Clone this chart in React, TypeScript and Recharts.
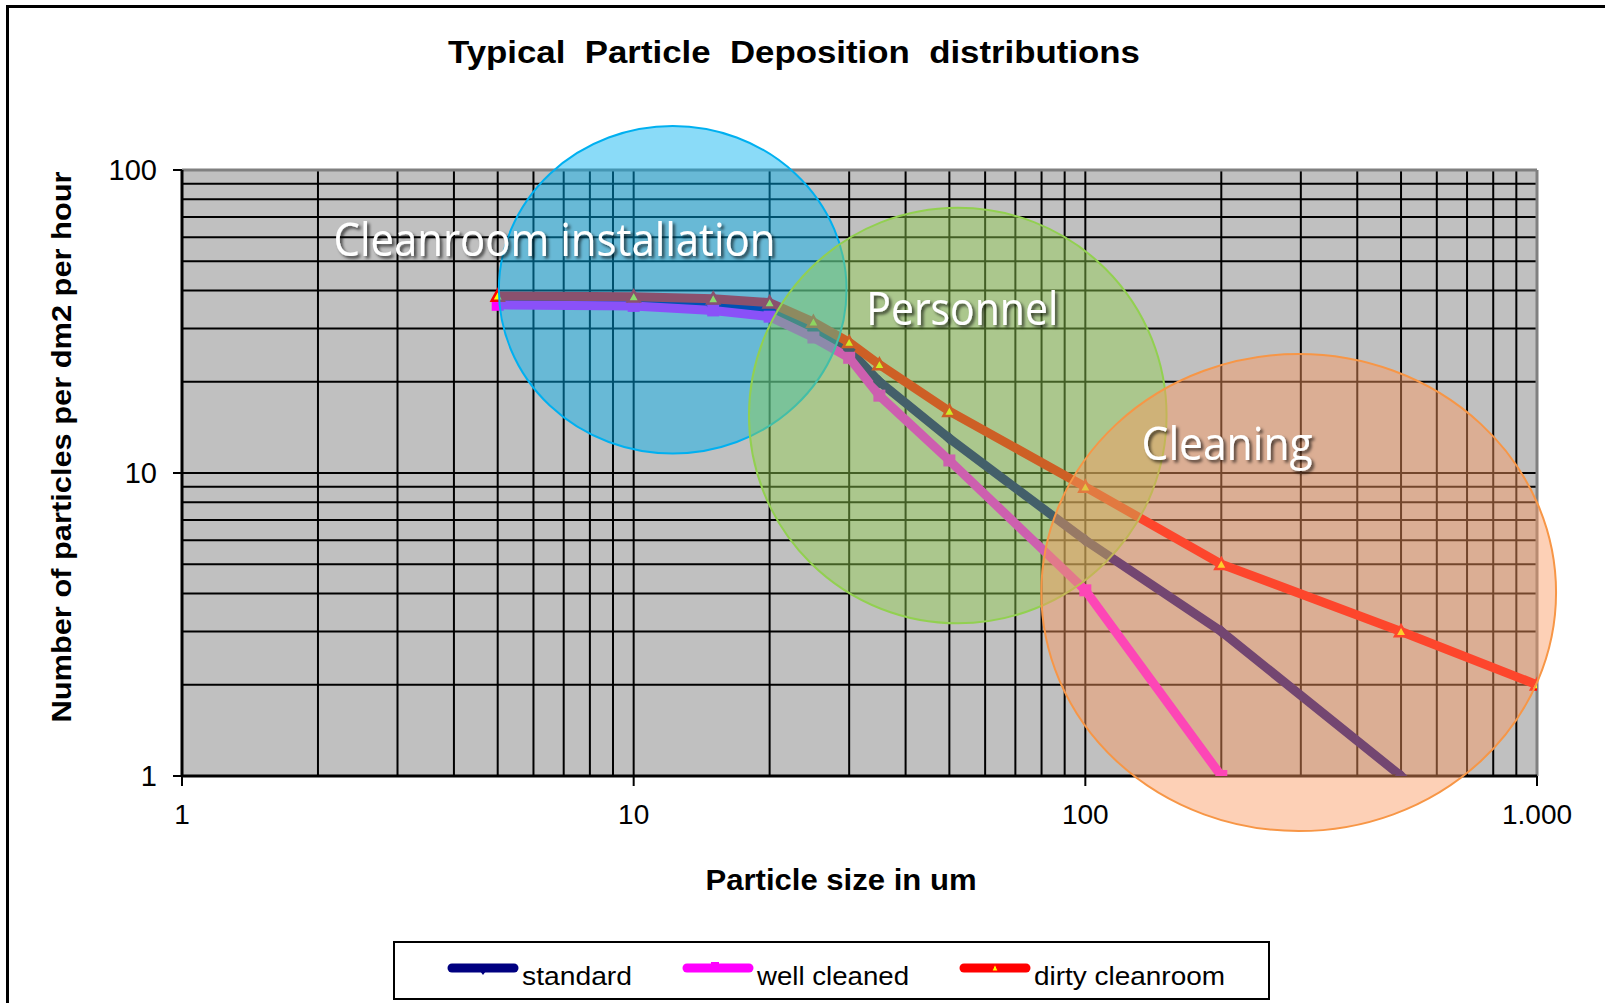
import React from 'react';
import {
  LineChart,
  Line,
  XAxis,
  YAxis,
  CartesianGrid,
  ReferenceArea,
  ReferenceDot,
  ReferenceLine,
  Legend,
} from 'recharts';

// ---------- data ----------
const standardSizes = [5, 10, 15, 20, 25, 30, 35, 50, 100, 200, 500];
const standardValues = [37, 36.6, 35.5, 34.5, 29.5, 25.5, 20, 13, 6, 3, 1];

const wellCleanedSizes = [5, 10, 15, 20, 25, 30, 35, 50, 100, 200];
const wellCleanedValues = [35.9, 35.6, 34.4, 32.8, 28, 24, 18, 11, 4.1, 1];

const dirtySizes = [5, 10, 15, 20, 25, 30, 35, 50, 100, 200, 500, 1000];
const dirtyValues = [38.4, 38.2, 37.6, 36.5, 31.5, 27, 22.8, 16, 9, 5, 3, 2];

const seriesNames = ['standard', 'well cleaned', 'dirty cleanroom'];
const seriesColors = ['#000080', '#FF00FF', '#FF0000'];

const xGridTicks = [
  1, 2, 3, 4, 5, 6, 7, 8, 9, 10, 20, 30, 40, 50, 60, 70, 80, 90, 100, 200, 300,
  400, 500, 600, 700, 800, 900, 1000,
];
const xLabelTicks = [1, 10, 100, 1000];
const yGridTicks = [
  1, 2, 3, 4, 5, 6, 7, 8, 9, 10, 20, 30, 40, 50, 60, 70, 80, 90, 100,
];
const yLabelTicks = [1, 10, 100];

// zones (ellipses) given by their data-space bounding boxes, plus label anchor
const zoneNames = ['Cleanroom installation', 'Personnel', 'Cleaning'];
const zoneX1 = [5.03, 18.0, 79.9];
const zoneX2 = [29.6, 151.3, 1102];
const zoneY1 = [11.6, 3.19, 0.658];
const zoneY2 = [139.7, 75.0, 24.7];
const zoneLabelX = [6.68, 53.4, 206];
const zoneLabelY = [52, 30.7, 11.0];
const zoneFills = ['#00B0F0', '#92D050', 'rgb(250,152,95)'];
const zoneStrokes = ['#00B0F0', '#92D050', '#F79646'];
const zoneLabelWidths = [442, 192, 171];

const toPoints = (xs: number[], ys: number[]) => xs.map((x, i) => ({ x, y: ys[i] }));
const standardData = toPoints(standardSizes, standardValues);
const wellCleanedData = toPoints(wellCleanedSizes, wellCleanedValues);
const dirtyData = toPoints(dirtySizes, dirtyValues);

const fmt = (v: number) => (v >= 1000 ? '1.000' : String(v));
const FONT = '"Liberation Sans", Arial, sans-serif';

// ---------- markers ----------
const Diamond = (p: any) => {
  const { cx, cy, index } = p;
  if (cx == null || cy == null) return <g key={index} />;
  const s = 6.5;
  return (
    <path
      key={index}
      d={`M${cx},${cy - s}L${cx + s},${cy}L${cx},${cy + s}L${cx - s},${cy}Z`}
      fill="#000080"
    />
  );
};
const Square = (p: any) => {
  const { cx, cy, index } = p;
  if (cx == null || cy == null) return <g key={index} />;
  const s = 6;
  return <rect key={index} x={cx - s} y={cy - s} width={2 * s} height={2 * s} fill="#FF00FF" />;
};
const Triangle = (p: any) => {
  const { cx, cy, index } = p;
  if (cx == null || cy == null) return <g key={index} />;
  const s = 6;
  return (
    <path
      key={index}
      d={`M${cx},${cy - s}L${cx + s},${cy + s * 0.8}L${cx - s},${cy + s * 0.8}Z`}
      fill="#FFFF00"
      stroke="#FF0000"
      strokeWidth={2.5}
    />
  );
};

// ---------- ticks ----------
const XTick = (p: any) => {
  const { x, y, payload } = p;
  const v = payload.value;
  if (!xLabelTicks.includes(v)) return <g />;
  return (
    <g>
      <line x1={x} x2={x} y1={y} y2={y + 10} stroke="#000" strokeWidth={2} />
      <text x={x} y={y + 48} textAnchor="middle" fontSize={28} fontFamily={FONT} fill="#000">
        {fmt(v)}
      </text>
    </g>
  );
};
const YTick = (p: any) => {
  const { x, y, payload } = p;
  const v = payload.value;
  if (!yLabelTicks.includes(v)) return <g />;
  return (
    <g>
      <line x1={x - 9} x2={x} y1={y} y2={y} stroke="#000" strokeWidth={2} />
      <text x={x - 25} y={y + 10} textAnchor="end" fontSize={29} fontFamily={FONT} fill="#000">
        {fmt(v)}
      </text>
    </g>
  );
};

const XTitle = (p: any) => {
  const vb = p.viewBox || { x: 182, y: 776 };
  return (
    <text
      x={vb.x + 659}
      y={vb.y + 114}
      textAnchor="middle"
      fontSize={29}
      fontWeight="bold"
      fontFamily={FONT}
      textLength={271}
      lengthAdjust="spacingAndGlyphs"
      fill="#000"
    >
      Particle size in um
    </text>
  );
};
const YTitle = (p: any) => {
  const vb = p.viewBox || { x: 0, y: 170 };
  const cx = vb.x + 71;
  const cy = vb.y + 277;
  return (
    <text
      x={cx}
      y={cy}
      transform={`rotate(-90 ${cx} ${cy})`}
      textAnchor="middle"
      fontSize={28}
      fontWeight="bold"
      fontFamily={FONT}
      textLength={551}
      lengthAdjust="spacingAndGlyphs"
      fill="#000"
    >
      Number of particles per dm2 per hour
    </text>
  );
};

// ---------- zones ----------
const makeEllipse = (i: number) => (p: any) => {
  const { x, y, width, height } = p;
  return (
    <ellipse
      cx={x + width / 2}
      cy={y + height / 2}
      rx={Math.abs(width) / 2}
      ry={Math.abs(height) / 2}
      fill={zoneFills[i]}
      fillOpacity={0.46}
      stroke={zoneStrokes[i]}
      strokeWidth={2}
    />
  );
};
const makeZoneLabel = (i: number) => (p: any) => {
  const { cx, cy } = p;
  return (
    <g>
      <defs>
        <filter id={`zs${i}`} x="-10%" y="-30%" width="120%" height="160%">
          <feDropShadow dx="2.5" dy="2.5" stdDeviation="1.6" floodColor="#000" floodOpacity="0.65" />
        </filter>
      </defs>
      <text
        x={cx}
        y={cy}
        textAnchor="middle"
        fontSize={46}
        fontFamily='"Open Sans", "Noto Sans", sans-serif'
        textLength={zoneLabelWidths[i]}
        lengthAdjust="spacingAndGlyphs"
        fill="#FFFFFF"
        filter={`url(#zs${i})`}
      >
        {zoneNames[i]}
      </text>
    </g>
  );
};

// ---------- legend ----------
const legendSymbolX = [55, 290, 567];
const legendTextWidths = [110, 152, 191];
const LegendContent = () => (
  <svg width={877} height={59} style={{ display: 'block' }}>
    <rect x={1} y={1} width={875} height={57} fill="#fff" stroke="#000" strokeWidth={2} />
    {seriesNames.map((name, i) => {
      const sx = legendSymbolX[i];
      const c = seriesColors[i];
      return (
        <g key={name}>
          <line x1={sx + 4} x2={sx + 66} y1={27} y2={27} stroke={c} strokeWidth={9} strokeLinecap="round" />
          {i === 0 && <path d={`M${sx + 35},${34}L${sx + 38},${30}L${sx + 32},${30}Z`} fill={c} />}
          {i === 1 && <rect x={sx + 28} y={21} width={8} height={6} fill={c} />}
          {i === 2 && (
            <path d={`M${sx + 35},${23}L${sx + 38},${30}L${sx + 32},${30}Z`} fill="#FFFF00" stroke="#FF0000" strokeWidth={1} />
          )}
          <text
            x={sx + 74}
            y={44}
            fontSize={26}
            fontFamily={FONT}
            textLength={legendTextWidths[i]}
            lengthAdjust="spacingAndGlyphs"
            fill="#000"
          >
            {name}
          </text>
        </g>
      );
    })}
  </svg>
);

export default function App() {
  return (
    <div style={{ position: 'relative', width: 1605, height: 1003, background: '#fff', overflow: 'hidden' }}>
      <style>{`body{margin:0;overflow:hidden}`}</style>
      <div
        style={{
          position: 'absolute',
          left: 6,
          top: 5,
          width: 1700,
          height: 1100,
          border: '3px solid #000',
          boxSizing: 'border-box',
        }}
      />
      <svg width={1605} height={100} style={{ position: 'absolute', left: 0, top: 0 }}>
        <text
          x={794}
          y={63}
          textAnchor="middle"
          fontSize={31}
          fontWeight="bold"
          fontFamily={FONT}
          textLength={692}
          lengthAdjust="spacingAndGlyphs"
          style={{ whiteSpace: 'pre' }}
          fill="#000"
        >
          {'Typical  Particle  Deposition  distributions'}
        </text>
      </svg>
      <div style={{ position: 'absolute', left: 0, top: 0 }}>
        <LineChart width={1605} height={1003} margin={{ top: 170, right: 68, left: 0, bottom: 0 }}>
          <CartesianGrid stroke="#000" strokeWidth={2} fill="#C0C0C0" fillOpacity={1} />
          <XAxis
            type="number"
            dataKey="x"
            scale="log"
            domain={[1, 1000]}
            allowDataOverflow
            ticks={xGridTicks}
            interval={0}
            height={227}
            tick={<XTick />}
            tickLine={false}
            tickSize={0}
            tickMargin={0}
            axisLine={{ stroke: '#000', strokeWidth: 3 }}
            label={<XTitle />}
          />
          <YAxis
            type="number"
            dataKey="y"
            scale="log"
            domain={[1, 100]}
            allowDataOverflow
            ticks={yGridTicks}
            interval={0}
            width={182}
            tick={<YTick />}
            tickLine={false}
            tickSize={0}
            tickMargin={0}
            axisLine={{ stroke: '#000', strokeWidth: 3 }}
            label={<YTitle />}
          />
          <ReferenceLine y={100} stroke="#808080" strokeWidth={3} ifOverflow="visible" />
          <ReferenceLine x={1000} stroke="#808080" strokeWidth={3} ifOverflow="visible" />
          <Line
            data={standardData}
            dataKey="y"
            name={seriesNames[0]}
            stroke={seriesColors[0]}
            strokeWidth={9}
            dot={Diamond}
            activeDot={false}
            isAnimationActive={false}
          />
          <Line
            data={wellCleanedData}
            dataKey="y"
            name={seriesNames[1]}
            stroke={seriesColors[1]}
            strokeWidth={9}
            dot={Square}
            activeDot={false}
            isAnimationActive={false}
          />
          <Line
            data={dirtyData}
            dataKey="y"
            name={seriesNames[2]}
            stroke={seriesColors[2]}
            strokeWidth={9}
            dot={Triangle}
            activeDot={false}
            isAnimationActive={false}
          />
          {zoneNames.map((n, i) => (
            <ReferenceArea
              key={n}
              x1={zoneX1[i]}
              x2={zoneX2[i]}
              y1={zoneY1[i]}
              y2={zoneY2[i]}
              ifOverflow="visible"
              shape={makeEllipse(i)}
              zIndex={1500}
            />
          ))}
          {zoneNames.map((n, i) => (
            <ReferenceDot
              key={'l' + n}
              x={zoneLabelX[i]}
              y={zoneLabelY[i]}
              r={1}
              ifOverflow="visible"
              shape={makeZoneLabel(i)}
              zIndex={1600}
            />
          ))}
          <Legend
            verticalAlign="middle"
            align="center"
            layout="horizontal"
            wrapperStyle={{ left: 393, top: 941, width: 877, height: 59 }}
            content={<LegendContent />}
          />
        </LineChart>
      </div>
    </div>
  );
}
